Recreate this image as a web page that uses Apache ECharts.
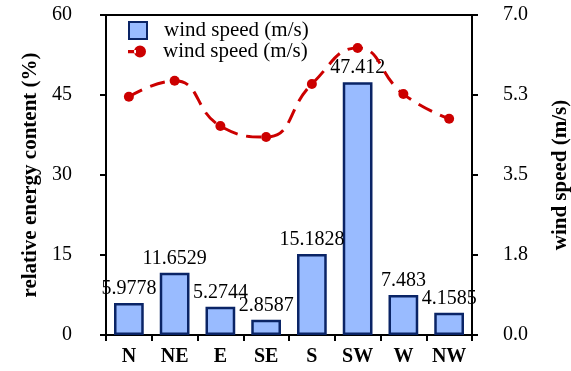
<!DOCTYPE html>
<html>
<head>
<meta charset="utf-8">
<script src="https://cdn.jsdelivr.net/npm/echarts@6/dist/echarts.min.js"></script>
<style>
  html, body { margin: 0; padding: 0; background: #fff; }
  #chart { width: 571px; height: 371px; }
</style>
</head>
<body>
<div id="chart"></div>
<script>
// Wind direction sectors
const directions = ['N', 'NE', 'E', 'SE', 'S', 'SW', 'W', 'NW'];
// Relative energy content per sector (%)
const energyShare = [5.9778, 11.6529, 5.2744, 2.8587, 15.1828, 47.412, 7.483, 4.1585];
// Mean wind speed per sector (m/s)
const windSpeed = [5.21, 5.56, 4.57, 4.33, 5.49, 6.28, 5.27, 4.73];

const seriesName = 'wind speed (m/s)';
const barName = seriesName + ' ';
const serif = '"Liberation Serif", "Times New Roman", serif';

// legend marker for the line series: short stub on the left, dot on the right
const dotMarker = 'path://M0,4.6h8v3.2h-8z M6,6a6,6 0 1,0 12,0a6,6 0 1,0 -12,0z';

const chart = echarts.init(document.getElementById('chart'), null, { renderer: 'canvas' });

const legendText = { fontFamily: serif, fontSize: 21, color: '#000' };

chart.setOption({
  animation: false,
  backgroundColor: '#fff',
  textStyle: { fontFamily: serif, color: '#000' },
  grid: {
    left: 106, right: 99, top: 15, bottom: 36,
    outerBoundsMode: 'none',
    containLabel: false,
    show: true, borderColor: '#000', borderWidth: 2, backgroundColor: 'transparent'
  },
  legend: [
    {
      left: 123, top: 15,
      itemWidth: 18, itemHeight: 17,
      textStyle: Object.assign({ padding: [0, 0, 0, 12] }, legendText),
      data: [{ name: barName, icon: 'rect' }]
    },
    {
      left: 123, top: 36,
      itemWidth: 18, itemHeight: 12,
      textStyle: Object.assign({ padding: [0, 0, 0, 12] }, legendText),
      data: [{ name: seriesName, icon: dotMarker, itemStyle: { color: '#cc0000' } }]
    }
  ],
  xAxis: {
    type: 'category',
    data: directions,
    axisLine: { lineStyle: { color: '#000', width: 2 } },
    axisTick: { show: true, length: 6, lineStyle: { color: '#000', width: 2 } },
    axisLabel: { interval: 0, fontFamily: serif, fontSize: 20, fontWeight: 'bold', color: '#000', margin: 12 },
    splitLine: { show: false }
  },
  yAxis: [
    {
      type: 'value',
      min: 0, max: 60, interval: 15,
      name: 'relative energy content (%)',
      nameLocation: 'middle',
      nameRotate: 90,
      nameGap: 64,
      nameTextStyle: { fontFamily: serif, fontSize: 21, fontWeight: 'bold', color: '#000' },
      axisLine: { show: true, lineStyle: { color: '#000', width: 2 } },
      axisTick: { show: true, length: 6, lineStyle: { color: '#000', width: 2 } },
      axisLabel: { fontFamily: serif, fontSize: 20, color: '#000', margin: 34 },
      splitLine: { show: false }
    },
    {
      type: 'value',
      position: 'right',
      min: 0, max: 7, interval: 1.75,
      name: 'wind speed (m/s)',
      nameLocation: 'middle',
      nameRotate: 90,
      nameGap: 78,
      nameTextStyle: { fontFamily: serif, fontSize: 21, fontWeight: 'bold', color: '#000' },
      axisLine: { show: true, lineStyle: { color: '#000', width: 2 } },
      axisTick: { show: true, length: 6, lineStyle: { color: '#000', width: 2 } },
      axisLabel: {
        fontFamily: serif, fontSize: 20, color: '#000', margin: 31,
        formatter: v => v.toFixed(1)
      },
      splitLine: { show: false }
    }
  ],
  series: [
    {
      name: barName,
      type: 'bar',
      yAxisIndex: 0,
      data: energyShare,
      barWidth: '65%',
      itemStyle: { color: '#99bbff', borderColor: '#0a2466', borderWidth: 2.5 },
      label: {
        show: true, position: 'top', distance: 4,
        fontFamily: serif, fontSize: 20, color: '#000',
        formatter: p => String(p.value)
      },
      z: 2
    },
    {
      name: seriesName,
      type: 'line',
      yAxisIndex: 1,
      data: windSpeed,
      smooth: 0.5,
      symbol: 'circle',
      symbolSize: 10,
      lineStyle: { color: '#cc0000', width: 3, type: [15, 9] },
      itemStyle: { color: '#cc0000' },
      z: 3
    }
  ]
});
</script>
</body>
</html>
